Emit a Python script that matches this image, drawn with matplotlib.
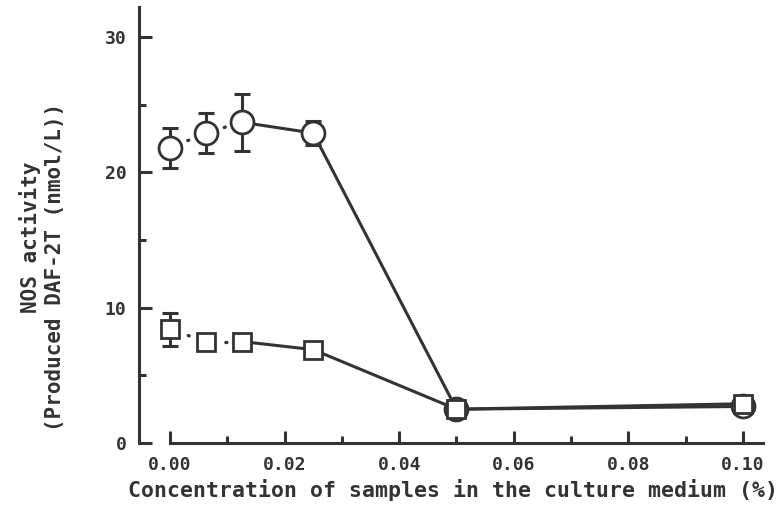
import matplotlib
matplotlib.use("Agg")
import matplotlib.pyplot as plt
from matplotlib.ticker import MultipleLocator, FormatStrFormatter

# concentration of samples (%)
conc = [0.0, 0.00625, 0.0125, 0.025, 0.05, 0.10]

# circles
circ_y = [21.8, 22.9, 23.7, 22.9, 2.5, 2.7]
circ_err = [1.5, 1.5, 2.1, 0.9, 0.3, 0.3]

# squares
sq_y = [8.4, 7.5, 7.5, 6.9, 2.5, 2.9]
sq_err = [1.2, 0.0, 0.0, 0.0, 0.3, 0.3]

INK = "#333333"
MONO = ["DejaVu Sans Mono"]


def draw_series(ax, x, y, err, marker, ms):
    # dotted link for the first three points (one dot per gap), solid after
    for i in range(2):
        ax.plot(x[i:i + 2], y[i:i + 2], color=INK, lw=2.4,
                linestyle=(0, (0.3, 5.5)), zorder=2, dash_capstyle="round")
    ax.plot(x[2:], y[2:], color=INK, lw=2.2, zorder=2)
    ax.errorbar(x, y, yerr=err, fmt="none", ecolor=INK, elinewidth=2.2,
                capsize=6, capthick=2.2, zorder=3)
    ax.plot(x, y, linestyle="none", marker=marker, ms=ms, mfc="white",
            mec=INK, mew=2.0, zorder=4)


def main():
    fig = plt.figure(figsize=(7.81, 5.17), dpi=100)
    ax = fig.add_axes([0.178, 0.1431, 0.799, 0.843])

    draw_series(ax, conc, circ_y, circ_err, "o", 16.5)
    draw_series(ax, conc, sq_y, sq_err, "s", 12.5)

    ax.set_xlim(-0.0054, 0.1035)
    ax.set_ylim(0, 32.2)

    for side in ["top", "right"]:
        ax.spines[side].set_visible(False)
    ax.spines["left"].set_color(INK)
    ax.spines["bottom"].set_color(INK)
    ax.spines["left"].set_linewidth(2.2)
    ax.spines["bottom"].set_linewidth(2.2)
    ax.spines["bottom"].set_bounds(0, 0.1035)

    ax.set_xticks([0, 0.02, 0.04, 0.06, 0.08, 0.10])
    ax.xaxis.set_minor_locator(MultipleLocator(0.01))
    ax.yaxis.set_major_locator(MultipleLocator(10))
    ax.yaxis.set_minor_locator(MultipleLocator(5))
    ax.xaxis.set_major_formatter(FormatStrFormatter("%.2f"))

    ax.tick_params(which="both", direction="in", color=INK, width=2.2,
                   labelcolor=INK)
    ax.tick_params(which="major", length=9)
    ax.tick_params(which="minor", length=5)
    ax.tick_params(axis="x", pad=9)
    ax.tick_params(axis="y", pad=9)
    for lab in ax.get_xticklabels() + ax.get_yticklabels():
        lab.set_family(MONO)
        lab.set_fontweight("bold")
        lab.set_fontsize(13)

    fig.text(0.58, 0.052, "Concentration of samples in the culture medium (%)",
             ha="center", va="center", family=MONO, fontweight="bold",
             fontsize=15.5, color=INK)
    fig.text(0.039, 0.542, "NOS activity", rotation=90, ha="center",
             va="center", family=MONO, fontweight="bold", fontsize=15,
             color=INK)
    fig.text(0.071, 0.483, "(Produced DAF-2T (nmol/L))", rotation=90,
             ha="center", va="center", family=MONO, fontweight="bold",
             fontsize=15, color=INK)

    fig.savefig("out.png", dpi=100)


if __name__ == "__main__":
    main()
